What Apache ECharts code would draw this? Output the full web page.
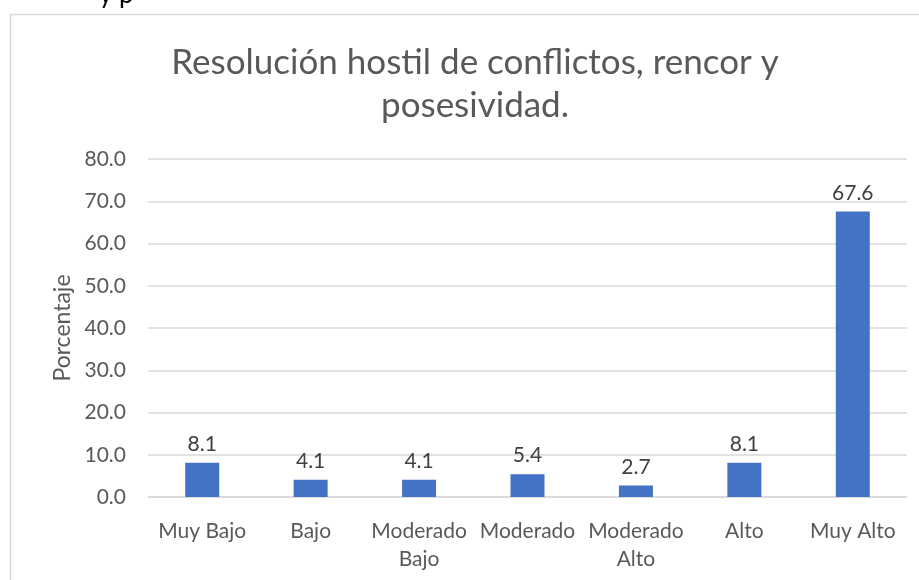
<!DOCTYPE html>
<html>
<head>
<meta charset="utf-8">
<script src="https://cdn.jsdelivr.net/npm/echarts@6/dist/echarts.min.js"></script>
<style>
  html, body { margin: 0; padding: 0; background: #fff; }
  #myChart { width: 919px; height: 580px; }
</style>
</head>
<body>
<div id="myChart"></div>
<script>
  // datos
  var categories = ['Muy Bajo', 'Bajo', 'Moderado\nBajo', 'Moderado', 'Moderado\nAlto', 'Alto', 'Muy Alto'];
  var porcentajes = [8.1, 4.1, 4.1, 5.4, 2.7, 8.1, 67.6];
  var titleText = 'Resolución hostil de conflictos, rencor y\nposesividad.';
  var yName = 'Porcentaje';

  var font = 'Lato, "Open Sans", sans-serif';
  var myChart = echarts.init(document.getElementById('myChart'));
  myChart.setOption({
    animation: false,
    textStyle: { fontFamily: font },
    graphic: [
      { // borde del gráfico
        type: 'rect', shape: { x: 10.5, y: 14.5, width: 940, height: 600 },
        style: { fill: 'none', stroke: '#d9d9d9', lineWidth: 1.5 }, z: -1
      },
      { // texto cortado arriba
        type: 'text', x: 99, y: -18,
        style: { text: 'y p', font: '26px ' + font, fill: '#000' }
      },
      {
        type: 'text', x: 475, y: 84,
        style: {
          text: titleText, font: '35px ' + font, fill: '#595959',
          textAlign: 'center', textVerticalAlign: 'middle', lineHeight: 43
        }
      }
    ],
    grid: { left: 148, right: 12, top: 159, bottom: 83 },
    xAxis: {
      type: 'category',
      data: categories,
      axisTick: { show: false },
      axisLine: { lineStyle: { color: '#d9d9d9', width: 1.5 } },
      axisLabel: {
        interval: 0, color: '#595959', fontSize: 21, lineHeight: 28, margin: 20
      }
    },
    yAxis: {
      type: 'value',
      min: 0, max: 80, interval: 10,
      name: yName,
      nameLocation: 'middle',
      nameGap: 73,
      nameRotate: 90,
      nameTextStyle: { color: '#595959', fontSize: 23 },
      axisLine: { show: false },
      axisTick: { show: false },
      axisLabel: {
        color: '#595959', fontSize: 21, margin: 22,
        formatter: function (v) { return v.toFixed(1); }
      },
      splitLine: { lineStyle: { color: '#d9d9d9', width: 1.5 } }
    },
    series: [{
      type: 'bar',
      data: porcentajes,
      barWidth: 34,
      itemStyle: { color: '#4472c4' },
      label: {
        show: true, position: 'top', distance: 8,
        color: '#404040', fontSize: 21,
        formatter: function (p) { return p.value.toFixed(1); }
      }
    }]
  });
</script>
</body>
</html>
